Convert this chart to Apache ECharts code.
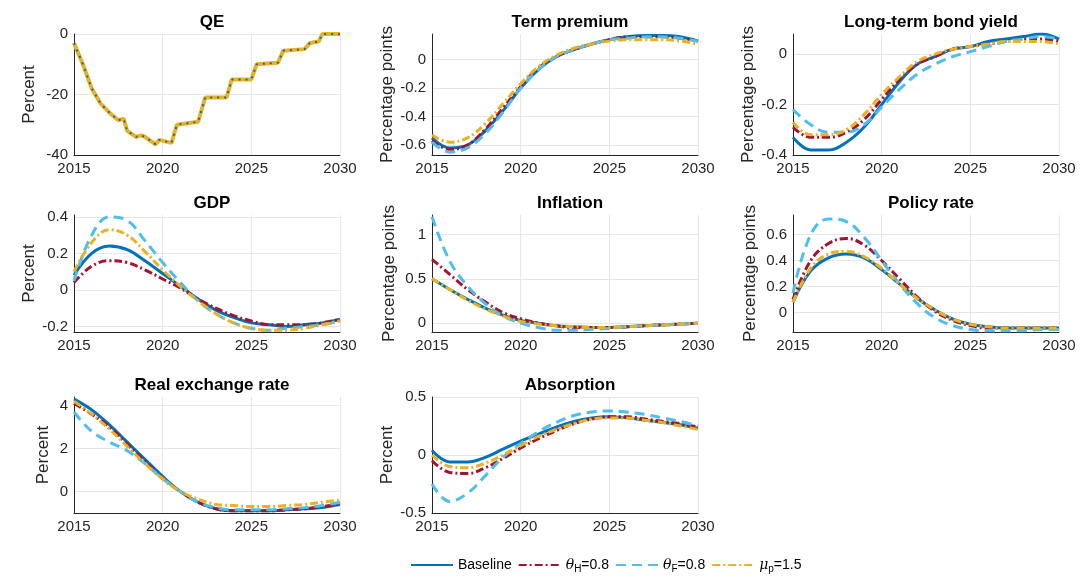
<!DOCTYPE html>
<html><head><meta charset="utf-8">
<script src="https://cdn.jsdelivr.net/npm/echarts@6/dist/echarts.min.js"></script>
<style>html,body{margin:0;background:#fff}#c{width:1084px;height:578px}</style>
</head><body><div id="c"></div>
<script>
var years=[2015,2016,2017,2018,2019,2020,2021,2022,2023,2024,2025,2026,2027,2028,2029,2030];
// QE path (step-like), x then value
var qeX=[2015,2015.5,2016,2016.5,2017,2017.5,2017.8,2018,2018.5,2018.8,2019,2019.6,2019.8,2020.5,2020.8,2022,2022.4,2023.6,2023.9,2025,2025.3,2026.5,2026.8,2028,2028.3,2028.8,2029,2030];
var qeY=[-3,-10,-18,-23,-26,-28.5,-28,-32,-34,-33.5,-34,-36.5,-35,-36,-30,-29,-21,-21,-15,-15,-10,-9.5,-5.5,-5,-3,-2.5,0,0];
var termBase=[-0.55,-0.62,-0.6,-0.5,-0.36,-0.2,-0.07,0.02,0.07,0.11,0.14,0.16,0.17,0.17,0.16,0.13];
var termH=[-0.57,-0.63,-0.6,-0.49,-0.34,-0.19,-0.06,0.02,0.07,0.11,0.14,0.16,0.16,0.16,0.15,0.13];
var termF=[-0.58,-0.65,-0.62,-0.52,-0.37,-0.2,-0.07,0.02,0.07,0.11,0.14,0.15,0.16,0.16,0.15,0.13];
var termMu=[-0.53,-0.58,-0.55,-0.45,-0.31,-0.17,-0.05,0.03,0.08,0.11,0.13,0.14,0.14,0.14,0.13,0.11];
var bondBase=[-0.33,-0.38,-0.38,-0.35,-0.29,-0.2,-0.11,-0.04,-0.01,0.02,0.03,0.05,0.06,0.07,0.08,0.06];
var bondH=[-0.29,-0.33,-0.33,-0.31,-0.26,-0.18,-0.1,-0.04,-0.01,0.02,0.03,0.04,0.05,0.06,0.06,0.05];
var bondF=[-0.22,-0.28,-0.31,-0.31,-0.28,-0.21,-0.14,-0.08,-0.04,-0.01,0.01,0.03,0.05,0.06,0.07,0.06];
var bondMu=[-0.27,-0.32,-0.32,-0.3,-0.24,-0.16,-0.09,-0.03,0,0.02,0.03,0.04,0.05,0.05,0.05,0.04];
var gdpBase=[0.08,0.2,0.24,0.22,0.16,0.09,0.02,-0.05,-0.11,-0.15,-0.18,-0.19,-0.2,-0.19,-0.18,-0.16];
var gdpH=[0.04,0.13,0.16,0.15,0.11,0.06,0.01,-0.05,-0.1,-0.14,-0.17,-0.19,-0.19,-0.19,-0.18,-0.16];
var gdpF=[0.05,0.3,0.4,0.38,0.27,0.15,0.04,-0.06,-0.13,-0.18,-0.21,-0.22,-0.21,-0.2,-0.19,-0.17];
var gdpMu=[0.1,0.26,0.33,0.3,0.21,0.11,0.02,-0.06,-0.13,-0.18,-0.21,-0.22,-0.22,-0.21,-0.19,-0.17];
var infBase=[0.5,0.38,0.27,0.17,0.09,0.03,0,-0.03,-0.04,-0.05,-0.05,-0.04,-0.03,-0.02,-0.01,0];
var infH=[0.72,0.55,0.38,0.24,0.12,0.05,0,-0.03,-0.05,-0.05,-0.05,-0.04,-0.03,-0.02,-0.01,0];
var infF=[1.2,0.7,0.42,0.22,0.08,0,-0.05,-0.08,-0.08,-0.07,-0.06,-0.04,-0.03,-0.02,-0.01,0];
var infMu=[0.5,0.38,0.26,0.16,0.08,0.02,-0.01,-0.03,-0.04,-0.05,-0.05,-0.04,-0.03,-0.02,-0.01,0];
var polBase=[0.08,0.32,0.42,0.45,0.42,0.33,0.22,0.11,0.02,-0.05,-0.09,-0.11,-0.12,-0.12,-0.12,-0.12];
var polH=[0.1,0.4,0.53,0.57,0.52,0.4,0.26,0.12,0.01,-0.06,-0.1,-0.12,-0.12,-0.12,-0.12,-0.12];
var polF=[0.15,0.6,0.72,0.7,0.58,0.4,0.22,0.07,-0.04,-0.1,-0.13,-0.14,-0.14,-0.14,-0.13,-0.13];
var polMu=[0.08,0.34,0.45,0.47,0.43,0.34,0.22,0.11,0.02,-0.05,-0.09,-0.11,-0.12,-0.12,-0.12,-0.12];
var rerBase=[4.3,3.8,3.1,2.3,1.5,0.7,0,-0.5,-0.8,-0.9,-0.9,-0.9,-0.85,-0.8,-0.75,-0.6];
var rerH=[4.1,3.6,3,2.2,1.4,0.6,0,-0.5,-0.8,-0.9,-0.9,-0.9,-0.85,-0.8,-0.7,-0.6];
var rerF=[3.7,2.8,2.3,1.9,1.3,0.6,0,-0.5,-0.75,-0.85,-0.85,-0.85,-0.8,-0.75,-0.65,-0.5];
var rerMu=[4.2,3.6,2.9,2.1,1.3,0.6,0,-0.35,-0.6,-0.65,-0.7,-0.7,-0.65,-0.6,-0.5,-0.4];
var absBase=[0.04,-0.06,-0.06,-0.02,0.05,0.12,0.18,0.24,0.29,0.32,0.33,0.32,0.3,0.28,0.26,0.23];
var absH=[-0.05,-0.15,-0.16,-0.11,-0.03,0.06,0.14,0.21,0.27,0.31,0.33,0.33,0.31,0.29,0.27,0.24];
var absF=[-0.25,-0.4,-0.33,-0.18,-0.02,0.1,0.2,0.28,0.34,0.37,0.38,0.37,0.35,0.32,0.29,0.25];
var absMu=[0,-0.1,-0.11,-0.07,0,0.08,0.16,0.22,0.27,0.31,0.32,0.32,0.3,0.28,0.25,0.22];
var xTicks=[2015,2020,2025,2030];

var panels=[
 {t:'QE',u:'Percent',min:-40,max:0,ticks:[-40,-20,0],s:null},
 {t:'Term premium',u:'Percentage points',min:-0.67,max:0.18,ticks:[-0.6,-0.4,-0.2,0],s:[termBase,termH,termF,termMu]},
 {t:'Long-term bond yield',u:'Percentage points',min:-0.4,max:0.08,ticks:[-0.4,-0.2,0],s:[bondBase,bondH,bondF,bondMu]},
 {t:'GDP',u:'Percent',min:-0.23,max:0.41,ticks:[-0.2,0,0.2,0.4],s:[gdpBase,gdpH,gdpF,gdpMu]},
 {t:'Inflation',u:'Percentage points',min:-0.1,max:1.22,ticks:[0,0.5,1],s:[infBase,infH,infF,infMu]},
 {t:'Policy rate',u:'Percentage points',min:-0.15,max:0.75,ticks:[0,0.2,0.4,0.6],s:[polBase,polH,polF,polMu]},
 {t:'Real exchange rate',u:'Percent',min:-1,max:4.4,ticks:[0,2,4],s:[rerBase,rerH,rerF,rerMu]},
 {t:'Absorption',u:'Percent',min:-0.5,max:0.5,ticks:[-0.5,0,0.5],s:[absBase,absH,absF,absMu]}
];
var names=['Baseline','thetaH','thetaF','mup'];
var colors=['#0072BD','#A2142F','#4DBEEE','#EDB120'];
var types=['solid',[8,3,2,3],[10,6],[8,3,2,3]];
var lefts=[74,432,793], tops=[34,215,397], hts=[121,117,116], W=266;
var font='Liberation Sans';
var grid=[],xAxis=[],yAxis=[],series=[],title=[];
function pairs(v){return years.map(function(y,i){return [y,v[i]];});}
panels.forEach(function(p,k){
  var c=k%3,r=Math.floor(k/3);
  grid.push({left:lefts[c],top:tops[r],width:W,height:hts[r]});
  title.push({text:p.t,left:lefts[c]+W/2,top:tops[r]-25,textAlign:'center',
    textStyle:{fontFamily:font,fontSize:17,fontWeight:'bold',color:'#000'}});
  xAxis.push({gridIndex:k,type:'value',min:2015,max:2030,
    axisLine:{onZero:false,lineStyle:{color:'#262626'}},
    axisTick:{show:false,customValues:xTicks},
    axisLabel:{color:'#262626',fontSize:15,fontFamily:font,margin:6,customValues:xTicks,formatter:function(v){return String(v);}},
    splitLine:{lineStyle:{color:'#e6e6e6'}}});
  yAxis.push({gridIndex:k,type:'value',min:p.min,max:p.max,
    axisLine:{show:true,onZero:false,lineStyle:{color:'#262626'}},
    axisTick:{show:false,customValues:p.ticks},
    axisLabel:{color:'#262626',fontSize:15,fontFamily:font,margin:6,customValues:p.ticks,
      formatter:function(v){return String(Math.round(v*100)/100);}},
    splitLine:{lineStyle:{color:'#e6e6e6'}},
    name:p.u,nameLocation:'middle',nameRotate:90,nameGap:p.u==='Percent'?(p.max>=4?22:36):34,
    nameTextStyle:{fontSize:17,fontFamily:font,color:'#262626'}});
  if(p.s===null){
    var q=qeX.map(function(x,i){return [x,qeY[i]];});
    series.push({type:'line',xAxisIndex:k,yAxisIndex:k,data:q,symbol:'none',
      lineStyle:{color:'#EDB120',width:4}});
    series.push({type:'line',xAxisIndex:k,yAxisIndex:k,data:q,symbol:'none',
      lineStyle:{color:'#0072BD',width:2,type:[2,5]}});
  } else {
    p.s.forEach(function(v,j){
      series.push({name:names[j],type:'line',xAxisIndex:k,yAxisIndex:k,data:pairs(v),
        symbol:'none',smooth:0.4,lineStyle:{color:colors[j],width:3,type:types[j]},itemStyle:{color:colors[j]}});
    });
  }
});
var chart=echarts.init(document.getElementById('c'));
chart.setOption({animation:false,title:title,grid:grid,xAxis:xAxis,yAxis:yAxis,series:series,
 legend:{data:names,left:405,top:553,itemGap:6,itemWidth:42,itemHeight:10,itemStyle:{opacity:0},
  textStyle:{fontFamily:font,fontSize:14,color:'#000',
   rich:{g:{fontFamily:'DejaVu Serif',fontStyle:'italic',fontSize:14},s:{fontSize:10,padding:[8,0,0,0]},n:{fontSize:14,fontFamily:font}}},
  formatter:function(n){
   if(n==='thetaH')return '{g|θ}{s|H}{n|=0.8}';
   if(n==='thetaF')return '{g|θ}{s|F}{n|=0.8}';
   if(n==='mup')return '{g|μ}{s|p}{n|=1.5}';
   return n;}}
});
</script></body></html>
